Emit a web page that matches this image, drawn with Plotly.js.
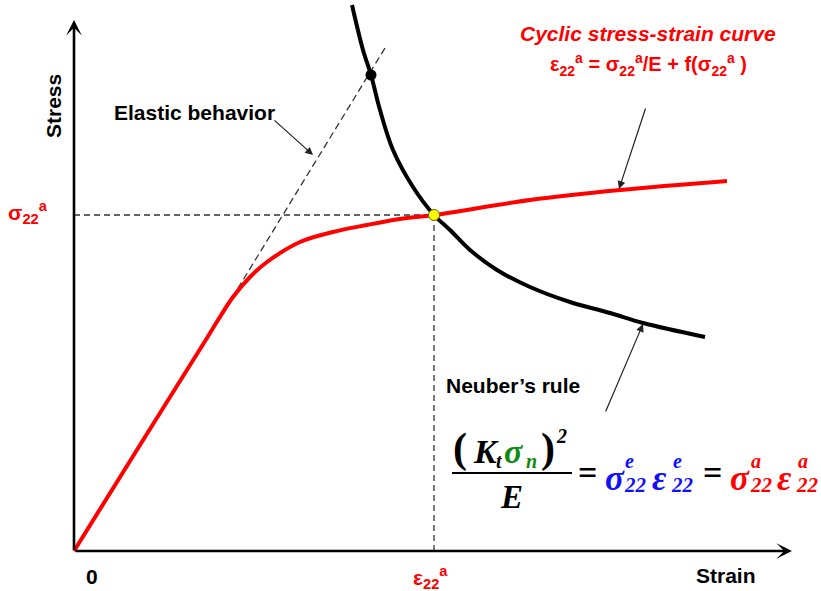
<!DOCTYPE html>
<html>
<head>
<meta charset="utf-8">
<script src="https://cdn.plot.ly/plotly-3.0.1.min.js"></script>
<style>
  html, body { margin: 0; padding: 0; background: #ffffff; }
  #chart { width: 821px; height: 591px; }
</style>
</head>
<body>
<div id="chart"></div>
<script>
// Cyclic stress-strain curve (arbitrary strain / stress units, origin at 0)
const cyclicStrain = [0, 0.66, 1.33, 1.44, 1.59, 1.76, 1.93, 2.26, 2.59, 2.93, 3.26, 3.60, 4.56, 5.46, 6.53];
const cyclicStress = [0, 1.06, 2.13, 2.31, 2.54, 2.74, 2.89, 3.09, 3.19, 3.26, 3.32, 3.36, 3.51, 3.61, 3.70];

// Neuber hyperbola
const neuberStrain = [2.78, 2.89, 2.97, 3.06, 3.19, 3.39, 3.60, 3.76, 3.96, 4.23, 4.56, 4.96, 5.36, 5.69, 6.31];
const neuberStress = [5.46, 5.01, 4.76, 4.41, 4.01, 3.64, 3.36, 3.21, 3.01, 2.81, 2.64, 2.49, 2.38, 2.28, 2.14];

// Elastic line (dashed extension)
const elasticStrain = [1.58, 3.11];
const elasticStress = [2.53, 5.03];

// Elastic solution on the Neuber curve
const elasticPointStrain = [2.97];
const elasticPointStress = [4.76];

// Actual local stress / strain (intersection)
const epsA = 3.60;
const sigA = 3.36;

// Axis extents
const strainMax = 7.18;
const stressMax = 5.31;

const sansBold = 'Liberation Sans, Arial, sans-serif';
const serif = 'Liberation Serif, Times New Roman, serif';
const RED = '#ff0000';
const BLUE = '#1010ff';
const GREEN = '#138a13';

const traces = [
  { // projection lines from the intersection to the axes
    x: [0, epsA, epsA], y: [sigA, sigA, 0],
    mode: 'lines', line: { color: '#333333', width: 1.3, dash: '6px,4px' },
    hoverinfo: 'skip'
  },
  {
    x: elasticStrain, y: elasticStress,
    mode: 'lines', line: { color: '#333333', width: 1.3, dash: '7px,4px' },
    hoverinfo: 'skip'
  },
  {
    x: cyclicStrain, y: cyclicStress,
    mode: 'lines', line: { color: RED, width: 4, shape: 'spline', smoothing: 1 },
    hoverinfo: 'skip'
  },
  {
    x: neuberStrain, y: neuberStress,
    mode: 'lines', line: { color: '#000000', width: 4, shape: 'spline', smoothing: 1 },
    hoverinfo: 'skip'
  },
  {
    x: elasticPointStrain, y: elasticPointStress,
    mode: 'markers', marker: { color: '#000000', size: 11 },
    hoverinfo: 'skip'
  },
  {
    x: [epsA], y: [sigA],
    mode: 'markers', marker: { color: '#ffff00', size: 11, line: { color: '#666600', width: 1 } },
    hoverinfo: 'skip'
  }
];

function arrow(x, y, ax, ay, width, head, size, color) {
  return {
    x: x, y: y, ax: ax, ay: ay, xref: 'x', yref: 'y', axref: 'x', ayref: 'y',
    text: '', showarrow: true, arrowhead: head, arrowsize: size,
    arrowwidth: width, arrowcolor: color, standoff: 0, startstandoff: 0
  };
}

function label(x, y, text, size, color, family, extra) {
  return Object.assign({
    x: x, y: y, xref: 'x', yref: 'y', text: text, showarrow: false,
    xanchor: 'center', yanchor: 'middle',
    font: { family: family || sansBold, size: size, color: color || '#000000' }
  }, extra || {});
}

const sub22 = '<sub>22</sub>';
const supA = '<sup>a</sup>';

const annotations = [
  // axes
  arrow(0, stressMax, 0, 0, 2.6, 3, 1.0, '#000000'),
  arrow(strainMax, 0, 0, 0, 2.6, 3, 1.0, '#000000'),
  // pointers
  arrow(2.39, 3.96, 1.99, 4.32, 1.2, 2, 1.3, '#222222'),
  arrow(5.45, 3.62, 5.72, 4.44, 1.2, 2, 1.3, '#222222'),
  arrow(5.69, 2.27, 5.31, 1.38, 1.2, 2, 1.3, '#222222'),

  // text labels
  label(-0.21, 4.45, '<b>Stress</b>', 21, '#000000', sansBold, { textangle: -90 }),
  label(1.20, 4.39, '<b>Elastic behavior</b>', 21),
  label(5.74, 5.18, '<b><i>Cyclic stress-strain curve</i></b>', 21, RED),
  label(5.74, 4.87, '<b>ε' + sub22 + supA + ' = σ' + sub22 + supA + '/E + f(σ' + sub22 + supA + ' )</b>', 20, RED),
  label(-0.46, 3.39, '<b>σ' + sub22 + supA + '</b>', 21, RED),
  label(0.18, -0.25, '<b>0</b>', 21),
  label(3.56, -0.26, '<b>ε' + sub22 + supA + '</b>', 21, RED),
  label(6.52, -0.24, '<b>Strain</b>', 21),
  label(4.39, 1.66, '<b>Neuber’s rule</b>', 21),

  // Neuber's rule formula: numerator
  label(3.86, 1.025, '<b>(</b>', 42, '#000000', serif),
  label(4.115, 0.995, '<b><i>K</i></b>', 34, '#000000', serif),
  label(4.25, 0.905, '<b><i>t</i></b>', 20, '#000000', serif),
  label(4.40, 0.995, '<b><i>σ</i></b>', 34, GREEN, serif),
  label(4.57, 0.905, '<b><i>n</i></b>', 20, GREEN, serif),
  label(4.735, 1.025, '<b>)</b>', 42, '#000000', serif),
  label(4.875, 1.148, '<b><i>2</i></b>', 20, '#000000', serif),
  // denominator
  label(4.37, 0.541, '<b><i>E</i></b>', 33, '#000000', serif),
  // equals signs
  label(5.135, 0.79, '<b>=</b>', 34, '#000000', serif),
  label(6.385, 0.79, '<b>=</b>', 34, '#000000', serif),
  // blue: elastic values
  label(5.41, 0.725, '<b><i>σ</i></b>', 35, BLUE, serif),
  label(5.55, 0.898, '<b><i>e</i></b>', 20, BLUE, serif),
  label(5.61, 0.661, '<b><i>22</i></b>', 21, BLUE, serif),
  label(5.85, 0.725, '<b><i>ε</i></b>', 35, BLUE, serif),
  label(6.035, 0.898, '<b><i>e</i></b>', 20, BLUE, serif),
  label(6.08, 0.661, '<b><i>22</i></b>', 21, BLUE, serif),
  // red: actual values
  label(6.66, 0.725, '<b><i>σ</i></b>', 35, RED, serif),
  label(6.82, 0.898, '<b><i>a</i></b>', 20, RED, serif),
  label(6.875, 0.661, '<b><i>22</i></b>', 21, RED, serif),
  label(7.10, 0.725, '<b><i>ε</i></b>', 35, RED, serif),
  label(7.285, 0.898, '<b><i>a</i></b>', 20, RED, serif),
  label(7.33, 0.661, '<b><i>22</i></b>', 21, RED, serif)
];

const layout = {
  width: 821, height: 591,
  margin: { l: 0, r: 0, t: 0, b: 0, pad: 0 },
  paper_bgcolor: '#ffffff', plot_bgcolor: '#ffffff',
  showlegend: false,
  xaxis: { range: [-0.74, 7.47], visible: false, fixedrange: true },
  yaxis: { range: [-0.40, 5.51], visible: false, fixedrange: true },
  shapes: [
    { // fraction bar
      type: 'line', xref: 'x', yref: 'y',
      x0: 3.78, x1: 4.98, y0: 0.78, y1: 0.78,
      line: { color: '#000000', width: 2 }
    }
  ],
  annotations: annotations
};

Plotly.newPlot('chart', traces, layout, { staticPlot: true, displayModeBar: false });
</script>
</body>
</html>
